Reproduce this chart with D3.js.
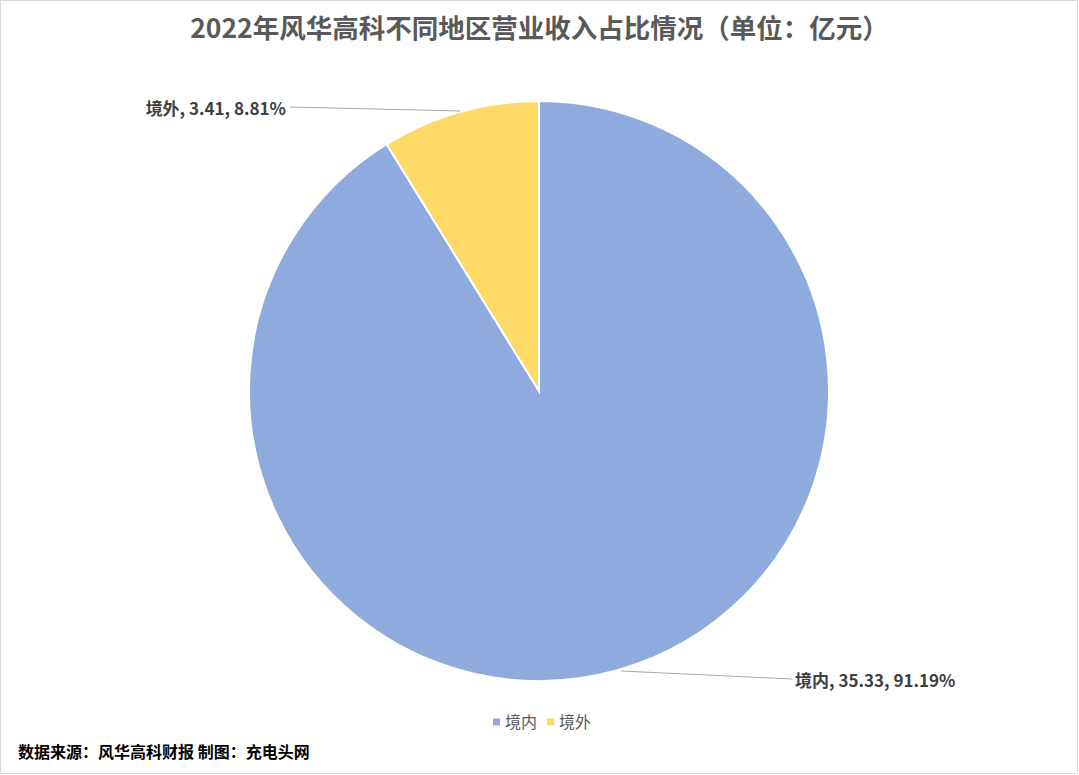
<!DOCTYPE html>
<html>
<head>
<meta charset="utf-8">
<script src="https://cdn.jsdelivr.net/npm/d3@7"></script>
<style>
  html, body { margin: 0; padding: 0; background: #fff; }
  text { font-family: "Noto Sans CJK SC", "Noto Sans", sans-serif; }
</style>
</head>
<body>
<div id="main"></div>
<script>
var ctx = {
    w: 1079,
    h: 775,
    cx: 539,
    cy: 391,
    r: 290
};

// data
var regions = ["境内", "境外"];
var revenue = [35.33, 3.41];
var shares = ["91.19%", "8.81%"];
var colors = ["#8FAADC", "#FFD966"];

var svg = d3.select("#main").append("svg")
    .attr("width", ctx.w)
    .attr("height", ctx.h);

// outer frame
svg.append("rect")
    .attr("x", 0.5).attr("y", 0.5)
    .attr("width", ctx.w - 2).attr("height", ctx.h - 2)
    .style("fill", "#fff")
    .style("stroke", "#d9d9d9");

svg.append("text")
    .attr("x", ctx.w / 2)
    .attr("y", 38)
    .attr("text-anchor", "middle")
    .style("font-size", "26.5px")
    .style("font-weight", "bold")
    .style("fill", "#595959")
    .text("2022年风华高科不同地区营业收入占比情况（单位：亿元）");

var data = regions.map(function(d, i){
    return { name: d, value: revenue[i], share: shares[i], color: colors[i] };
});

var pie = d3.pie().sort(null).value(function(d){ return d.value; });
var arc = d3.arc().innerRadius(0).outerRadius(ctx.r);
var arcs = pie(data);

var g = svg.append("g")
    .attr("transform", "translate(" + ctx.cx + "," + ctx.cy + ")");

g.selectAll("path")
    .data(arcs)
    .enter().append("path")
    .attr("d", arc)
    .style("fill", function(d){ return d.data.color; })
    .style("stroke", "#fff")
    .style("stroke-width", 2);

// labels with leader lines (placed outside like Excel does)
var labelPos = [
    { x: 795, y: 681, anchor: "start", line: [[ctx.cx + 82, 671], [792, 679]] },
    { x: 286, y: 109, anchor: "end", line: [[460, 111], [290, 107]] }
];

arcs.forEach(function(d, i){
    var p = labelPos[i];
    svg.append("path")
        .attr("d", d3.line()(p.line))
        .style("fill", "none")
        .style("stroke", "#a6a6a6")
        .style("stroke-width", 1);
    svg.append("text")
        .attr("x", p.x)
        .attr("y", p.y)
        .attr("dy", "0.35em")
        .attr("text-anchor", p.anchor)
        .style("font-size", "17px")
        .style("font-weight", "bold")
        .style("fill", "#404040")
        .text(d.data.name + ", " + d3.format(".2f")(d.data.value) + ", " + d.data.share);
});

// legend
var legend = svg.append("g").attr("transform", "translate(493,722)");
var lx = [0, 54];
regions.forEach(function(name, i){
    legend.append("rect")
        .attr("x", lx[i]).attr("y", -3.5)
        .attr("width", 7).attr("height", 7)
        .style("fill", colors[i]);
    legend.append("text")
        .attr("x", lx[i] + 12).attr("y", 0)
        .attr("dy", "0.35em")
        .style("font-size", "16px")
        .style("fill", "#595959")
        .text(name);
});

svg.append("text")
    .attr("x", 18)
    .attr("y", 752)
    .attr("dy", "0.35em")
    .style("font-size", "16px")
    .style("font-weight", "bold")
    .style("fill", "#000")
    .text("数据来源：风华高科财报  制图：充电头网");
</script>
</body>
</html>
